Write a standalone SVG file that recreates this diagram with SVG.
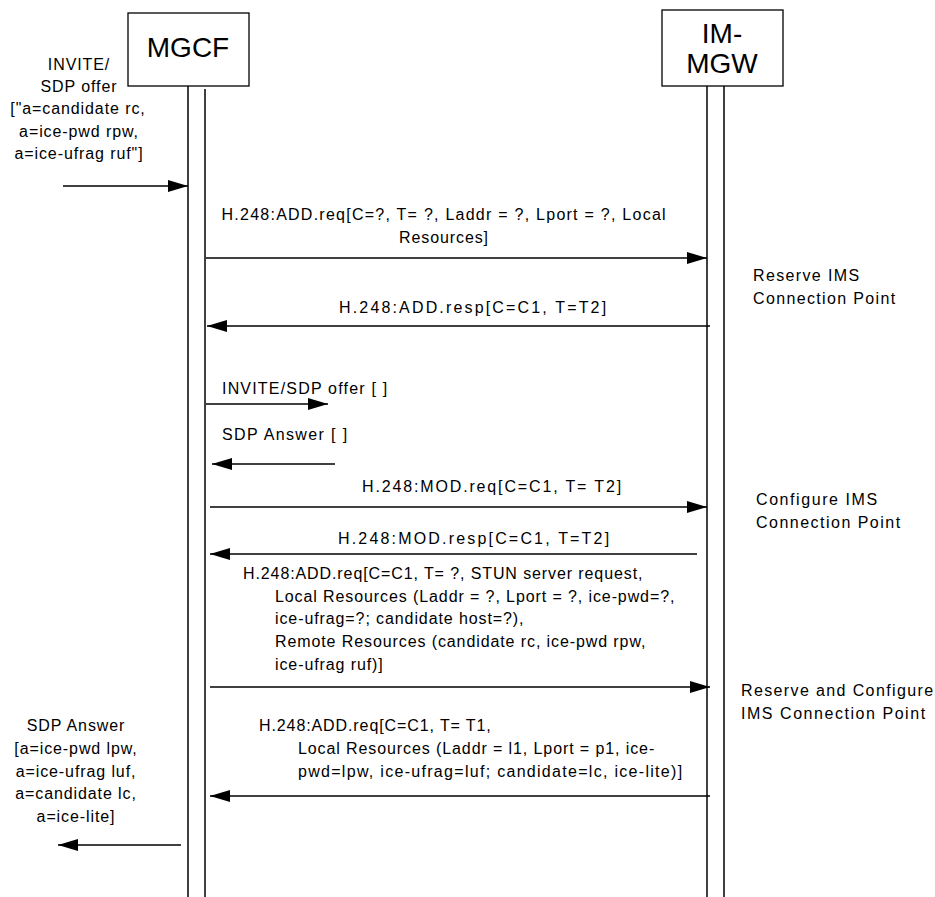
<svg xmlns="http://www.w3.org/2000/svg" width="935" height="897" viewBox="0 0 935 897">
<defs>
<style>
.t{font-family:"Liberation Sans",Arial,sans-serif;font-size:16px;fill:#000;letter-spacing:0.9px}
.big{font-family:"Liberation Sans",Arial,sans-serif;font-size:28px;fill:#000;text-anchor:middle}
.m{text-anchor:middle}
.box{fill:#fff;stroke:#000;stroke-width:1.3}
.life{stroke:#000;stroke-width:1.5;fill:none}
.msg{stroke:#000;stroke-width:1.3;fill:none;marker-end:url(#ah)}
</style>
<marker id="ah" markerWidth="20" markerHeight="12" refX="20" refY="6" orient="auto" markerUnits="userSpaceOnUse">
<path d="M0,0 L20,6 L0,12 z" fill="#000"/>
</marker>
</defs>
<rect width="935" height="897" fill="#fff"/>
<g id="mgcf">
<line class="life" x1="188" y1="86" x2="188" y2="897"/>
<line class="life" x1="205" y1="89" x2="205" y2="897"/>
<rect class="box" x="128" y="13" width="121" height="73"/>
<text class="big" x="188" y="57">MGCF</text>
</g>
<g id="imgw">
<line class="life" x1="707" y1="86" x2="707" y2="897"/>
<line class="life" x1="724" y1="86" x2="724" y2="897"/>
<rect class="box" x="662" y="10" width="121" height="76"/>
<text class="big" x="722" y="43">IM-</text>
<text class="big" x="722" y="73">MGW</text>
</g>
<g id="connectors">
<line class="msg" x1="63" y1="186" x2="188" y2="186"/>
<line class="msg" x1="206" y1="258" x2="707" y2="258"/>
<line class="msg" x1="710" y1="326" x2="207" y2="326"/>
<line class="msg" x1="206" y1="404" x2="328" y2="404"/>
<line class="msg" x1="335" y1="464" x2="212" y2="464"/>
<line class="msg" x1="210" y1="507" x2="707" y2="507"/>
<line class="msg" x1="697" y1="554" x2="210" y2="554"/>
<line class="msg" x1="210" y1="687" x2="710" y2="687"/>
<line class="msg" x1="710" y1="796" x2="210" y2="796"/>
<line class="msg" x1="181" y1="845" x2="58" y2="845"/>
</g>
<g id="labels">
<text class="t m" x="79" y="70">INVITE/</text>
<text class="t m" x="79" y="92">SDP offer</text>
<text class="t m" x="78" y="114">["a=candidate rc,</text>
<text class="t m" x="79" y="137">a=ice-pwd rpw,</text>
<text class="t m" x="79" y="159">a=ice-ufrag ruf"]</text>
<text class="t m" x="444" y="220" textLength="445" lengthAdjust="spacing">H.248:ADD.req[C=?, T= ?, Laddr = ?, Lport = ?, Local</text>
<text class="t m" x="444" y="243">Resources]</text>
<text class="t m" x="473" y="313" textLength="268" lengthAdjust="spacing">H.248:ADD.resp[C=C1, T=T2]</text>
<text class="t" x="222" y="394" textLength="166" lengthAdjust="spacing">INVITE/SDP offer [ ]</text>
<text class="t" x="222" y="440" textLength="126" lengthAdjust="spacing">SDP Answer [ ]</text>
<text class="t m" x="492" y="492" textLength="260" lengthAdjust="spacing">H.248:MOD.req[C=C1, T= T2]</text>
<text class="t m" x="474" y="544" textLength="272" lengthAdjust="spacing">H.248:MOD.resp[C=C1, T=T2]</text>
<text class="t" x="243" y="579">H.248:ADD.req[C=C1, T= ?, STUN server request,</text>
<text class="t" x="275" y="602">Local Resources (Laddr = ?, Lport = ?, ice-pwd=?,</text>
<text class="t" x="275" y="624">ice-ufrag=?; candidate host=?),</text>
<text class="t" x="275" y="647">Remote Resources (candidate rc, ice-pwd rpw,</text>
<text class="t" x="275" y="670">ice-ufrag ruf)]</text>
<text class="t" x="259" y="731">H.248:ADD.req[C=C1, T= T1,</text>
<text class="t" x="298" y="754">Local Resources (Laddr = l1, Lport = p1, ice-</text>
<text class="t" x="298" y="777" textLength="385" lengthAdjust="spacing">pwd=lpw, ice-ufrag=luf; candidate=lc, ice-lite)]</text>
<text class="t m" x="76" y="731">SDP Answer</text>
<text class="t m" x="76" y="754">[a=ice-pwd lpw,</text>
<text class="t m" x="76" y="777">a=ice-ufrag luf,</text>
<text class="t m" x="76" y="799">a=candidate lc,</text>
<text class="t m" x="76" y="822">a=ice-lite]</text>
<text class="t" x="753" y="281" textLength="107" lengthAdjust="spacing">Reserve IMS</text>
<text class="t" x="753" y="304" textLength="143" lengthAdjust="spacing">Connection Point</text>
<text class="t" x="756" y="505" textLength="122" lengthAdjust="spacing">Configure IMS</text>
<text class="t" x="756" y="528" textLength="145" lengthAdjust="spacing">Connection Point</text>
<text class="t" x="741" y="696" textLength="193" lengthAdjust="spacing">Reserve and Configure</text>
<text class="t" x="741" y="719" textLength="185" lengthAdjust="spacing">IMS Connection Point</text>
</g>
</svg>
